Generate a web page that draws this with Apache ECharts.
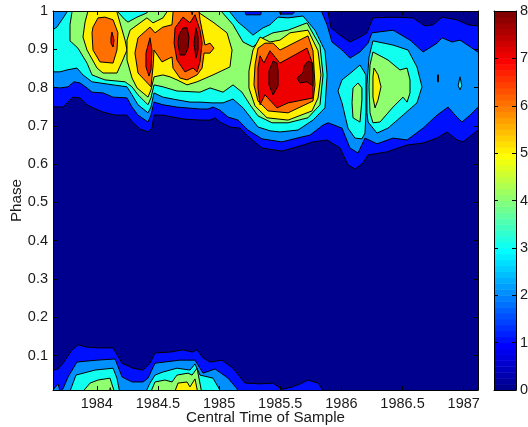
<!DOCTYPE html>
<html><head><meta charset="utf-8">
<style>html,body{margin:0;padding:0;background:#fff}#c{width:528px;height:427px}</style>
<script src="https://cdn.jsdelivr.net/npm/echarts@6/dist/echarts.min.js"></script>
</head><body><div id="c"></div>
<script>
// Tick labels
const timeTicks = [1984, 1984.5, 1985, 1985.5, 1986, 1986.5, 1987];
const phaseTicks = [0.1, 0.2, 0.3, 0.4, 0.5, 0.6, 0.7, 0.8, 0.9, 1];
const barTicks = [0, 1, 2, 3, 4, 5, 6, 7, 8];

// Jet palette, 64 steps from 0 to 8
const jet = ['#00008f','#00009f','#0000af','#0000bf','#0000cf','#0000df','#0000ef','#0000ff',
'#0010ff','#0020ff','#0030ff','#0040ff','#0050ff','#0060ff','#0070ff','#0080ff',
'#008fff','#009fff','#00afff','#00bfff','#00cfff','#00dfff','#00efff','#00ffff',
'#10ffef','#20ffdf','#30ffcf','#40ffbf','#50ffaf','#60ff9f','#70ff8f','#80ff80',
'#8fff70','#9fff60','#afff50','#bfff40','#cfff30','#dfff20','#efff10','#ffff00',
'#ffef00','#ffdf00','#ffcf00','#ffbf00','#ffaf00','#ff9f00','#ff8f00','#ff8000',
'#ff7000','#ff6000','#ff5000','#ff4000','#ff3000','#ff2000','#ff1000','#ff0000',
'#ef0000','#df0000','#cf0000','#bf0000','#af0000','#9f0000','#8f0000','#800000'];
const bandColor = ['#00008f','#0010ff','#008fff','#10ffef','#8fff70','#ffef00','#ff7000','#ef0000','#800000'];

// Contour rings, [central time, phase], one list per level
const level1 = [
[[1983.6,.750],[1983.724,.749],[1983.765,.762],[1983.805,.775],[1983.863,.773],[1983.92,.755],[1983.969,.747],[1984.051,.736],[1984.149,.728],[1984.247,.728],[1984.296,.708],[1984.353,.692],[1984.419,.684],[1984.451,.694],[1984.468,.728],[1984.541,.728],[1984.705,.718],[1984.844,.715],[1984.926,.715],[1984.967,.721],[1985.007,.710],[1985.089,.697],[1985.171,.694],[1985.253,.668],[1985.351,.642],[1985.514,.634],[1985.637,.645],[1985.768,.658],[1985.883,.663],[1985.989,.642],[1986.054,.598],[1986.112,.587],[1986.177,.603],[1986.218,.624],[1986.373,.632],[1986.537,.650],[1986.668,.655],[1986.782,.668],[1986.864,.684],[1986.946,.663],[1986.995,.658],[1987.118,.689],[1987.2,.689],[1987.2,.961],[1987.118,.961],[1987.036,.964],[1986.946,.977],[1986.823,.984],[1986.75,.964],[1986.684,.961],[1986.586,.982],[1986.422,.984],[1986.258,.982],[1986.209,.943],[1986.152,.932],[1986.07,.919],[1985.989,.937],[1985.915,.956],[1985.891,.997],[1985.88,1.02],[1983.6,1.02]],
[[1983.6,0],[1983.6,.062],[1983.642,.062],[1983.683,.065],[1983.724,.080],[1983.798,.115],[1983.847,.128],[1983.92,.122],[1984.027,.120],[1984.133,.120],[1984.207,.080],[1984.296,.067],[1984.378,.062],[1984.435,.080],[1984.476,.107],[1984.599,.109],[1984.705,.115],[1984.779,.109],[1984.82,.115],[1984.869,.094],[1984.926,.083],[1985.024,.088],[1985.114,.067],[1985.212,.028],[1985.335,.026],[1985.441,.028],[1985.515,.012],[1985.597,.018],[1985.678,.028],[1985.727,.036],[1985.809,.028],[1985.87,0]]
];
const level2 = [
[[1983.6,.802],[1983.699,.799],[1983.765,.802],[1983.814,.815],[1983.863,.812],[1983.92,.799],[1983.961,.788],[1984.051,.786],[1984.133,.775],[1984.247,.773],[1984.288,.749],[1984.337,.728],[1984.419,.710],[1984.443,.728],[1984.468,.762],[1984.541,.755],[1984.656,.749],[1984.844,.744],[1984.909,.744],[1984.95,.749],[1985.007,.741],[1985.073,.723],[1985.155,.715],[1985.236,.689],[1985.351,.666],[1985.514,.658],[1985.637,.668],[1985.744,.676],[1985.85,.702],[1985.891,.708],[1986.005,.694],[1986.07,.642],[1986.136,.629],[1986.193,.668],[1986.291,.653],[1986.422,.668],[1986.537,.663],[1986.668,.694],[1986.782,.728],[1986.872,.749],[1986.93,.728],[1986.986,.710],[1987.052,.728],[1987.118,.749],[1987.2,.749],[1987.2,.875],[1986.97,.924],[1986.905,.919],[1986.823,.930],[1986.782,.916],[1986.668,.893],[1986.561,.924],[1986.422,.950],[1986.25,.943],[1986.218,.916],[1986.152,.893],[1986.07,.877],[1986.005,.898],[1985.923,.919],[1985.883,.964],[1985.84,.997],[1985.83,1.02],[1985.62,1.02],[1985.62,.998],[1985.60,.992],[1985.50,.992],[1985.47,1.02],[1985.36,1.02],[1985.34,.990],[1985.22,.990],[1985.196,1.02],[1983.6,1.02]],
[[1983.6,0],[1983.642,.01],[1983.683,.026],[1983.699,.008],[1983.724,.013],[1983.765,.044],[1983.838,.083],[1984.002,.088],[1984.149,.091],[1984.207,.044],[1984.288,.031],[1984.378,.031],[1984.419,.041],[1984.476,.080],[1984.68,.088],[1984.803,.088],[1984.869,.054],[1984.967,.065],[1985.073,.041],[1985.147,.013],[1985.16,0]]
];
const level3 = [
[[1983.6,.841],[1983.699,.841],[1983.756,.846],[1983.838,.851],[1983.887,.833],[1983.961,.815],[1984.026,.812],[1984.133,.807],[1984.247,.802],[1984.288,.781],[1984.337,.755],[1984.419,.734],[1984.443,.749],[1984.468,.786],[1984.541,.775],[1984.656,.768],[1984.762,.762],[1984.844,.762],[1984.95,.760],[1985.032,.760],[1985.114,.770],[1985.196,.747],[1985.318,.697],[1985.416,.687],[1985.498,.684],[1985.645,.689],[1985.768,.715],[1985.866,.747],[1985.883,.833],[1985.866,.896],[1985.784,.950],[1985.686,.987],[1985.564,.982],[1985.482,.984],[1985.416,.964],[1985.359,.956],[1985.277,.937],[1985.212,.956],[1985.155,.971],[1985.089,.997],[1985.08,1.02],[1983.77,1.02],[1983.756,.997],[1983.715,.977],[1983.674,.958],[1983.6,.943]],
[[1983.773,0],[1983.83,.049],[1983.985,.062],[1984.133,.067],[1984.165,.041],[1984.19,0]],
[[1984.394,0],[1984.435,.028],[1984.476,.049],[1984.541,.057],[1984.656,.067],[1984.762,.062],[1984.803,.078],[1984.844,.049],[1984.95,.041],[1984.983,.023],[1985.024,0]],
[[1986.152,.859],[1986.201,.833],[1986.201,.734],[1986.193,.681],[1986.168,.666],[1986.111,.668],[1986.054,.694],[1986.005,.760],[1985.972,.791],[1986.005,.820],[1986.087,.841]],
[[1986.258,.922],[1986.422,.911],[1986.545,.898],[1986.618,.854],[1986.659,.802],[1986.618,.760],[1986.504,.728],[1986.381,.694],[1986.291,.681],[1986.218,.710],[1986.209,.734],[1986.209,.807],[1986.226,.880]],
[[1986.786,.833],[1986.794,.833],[1986.794,.815],[1986.786,.815]],
[[1986.97,.828],[1986.985,.805],[1986.97,.794],[1986.955,.805]]
];
const level4 = [
[[1983.8,1.02],[1983.797,.997],[1983.781,.964],[1983.781,.922],[1983.846,.903],[1983.92,.864],[1983.961,.833],[1984.067,.820],[1984.231,.815],[1984.288,.802],[1984.337,.781],[1984.419,.755],[1984.443,.773],[1984.468,.807],[1984.541,.802],[1984.656,.791],[1984.844,.788],[1984.926,.799],[1985.032,.788],[1985.114,.807],[1985.187,.788],[1985.253,.755],[1985.318,.726],[1985.433,.708],[1985.564,.708],[1985.727,.721],[1985.825,.755],[1985.85,.833],[1985.825,.909],[1985.719,.969],[1985.564,.950],[1985.441,.943],[1985.359,.930],[1985.277,.906],[1985.196,.919],[1985.114,.964],[1985.024,.997],[1985.02,1.02],[1984.44,1.02],[1984.41,.995],[1984.329,.984],[1984.255,.971],[1984.231,.977],[1984.174,.997],[1984.17,1.02]],
[[1983.871,0],[1983.945,.028],[1984.01,.036],[1984.108,.041],[1984.149,0]],
[[1984.435,0],[1984.476,.031],[1984.558,.036],[1984.615,.031],[1984.656,.049],[1984.746,.054],[1984.779,.049],[1984.82,.067],[1984.86,0]],
[[1986.136,.812],[1986.095,.799],[1986.087,.760],[1986.095,.721],[1986.152,.710],[1986.168,.768],[1986.168,.799]],
[[1986.258,.893],[1986.381,.872],[1986.479,.846],[1986.537,.851],[1986.561,.820],[1986.561,.786],[1986.537,.762],[1986.504,.775],[1986.422,.749],[1986.316,.710],[1986.258,.708],[1986.234,.734],[1986.226,.802],[1986.234,.859]]
];
const level5 = [
[[1983.945,1.02],[1983.904,.971],[1983.887,.932],[1983.92,.898],[1984.002,.851],[1984.051,.838],[1984.165,.838],[1984.206,.867],[1984.247,.898],[1984.231,.924],[1984.165,.997],[1984.16,1.02]],
[[1984.272,.950],[1984.41,.982],[1984.46,.969],[1984.541,.982],[1984.62,1.02],[1984.83,1.02],[1984.828,.997],[1984.95,.971],[1985.065,.943],[1985.106,.898],[1985.089,.854],[1984.95,.833],[1984.82,.815],[1984.738,.807],[1984.656,.820],[1984.599,.828],[1984.541,.833],[1984.468,.828],[1984.443,.794],[1984.419,.775],[1984.329,.799],[1984.288,.825],[1984.247,.872],[1984.247,.924]],
[[1985.244,.843],[1985.277,.898],[1985.335,.932],[1985.416,.919],[1985.498,.924],[1985.58,.943],[1985.727,.950],[1985.809,.896],[1985.833,.833],[1985.809,.773],[1985.76,.739],[1985.564,.715],[1985.392,.721],[1985.294,.752],[1985.244,.799]],
[[1986.267,.851],[1986.3,.833],[1986.324,.802],[1986.3,.768],[1986.275,.747],[1986.258,.775],[1986.258,.828]],
[[1984.631,0],[1984.664,.028],[1984.738,.031],[1984.762,.018],[1984.803,.039],[1984.828,0]],
[[1984.10,0],[1984.11,.016],[1984.125,0]]
];
const level6 = [
[[1984.01,.982],[1983.969,.958],[1983.961,.943],[1983.969,.898],[1984.026,.867],[1984.133,.864],[1984.165,.898],[1984.173,.943],[1984.133,.977],[1984.067,.984]],
[[1984.312,.890],[1984.337,.930],[1984.435,.958],[1984.476,.943],[1984.541,.958],[1984.615,.964],[1984.623,.995],[1984.63,1.02],[1984.76,1.02],[1984.78,.99],[1984.80,1.02],[1984.828,1.02],[1984.844,.977],[1984.885,.911],[1984.926,.916],[1984.958,.903],[1984.926,.890],[1984.877,.890],[1984.861,.851],[1984.82,.833],[1984.738,.820],[1984.68,.825],[1984.623,.851],[1984.615,.880],[1984.533,.867],[1984.468,.898],[1984.46,.854],[1984.443,.802],[1984.337,.838]],
[[1985.294,.859],[1985.318,.903],[1985.375,.916],[1985.441,.916],[1985.498,.898],[1985.727,.935],[1985.768,.896],[1985.784,.807],[1985.768,.765],[1985.564,.734],[1985.4,.739],[1985.318,.765],[1985.285,.807]]
];
const level7 = [
[[1984.124,.945],[1984.116,.930],[1984.116,.916],[1984.133,.906],[1984.141,.924]],
[[1984.435,.930],[1984.402,.890],[1984.402,.854],[1984.427,.830],[1984.443,.846],[1984.451,.898]],
[[1984.705,.984],[1984.64,.956],[1984.632,.916],[1984.656,.872],[1984.721,.841],[1984.787,.851],[1984.82,.841],[1984.844,.867],[1984.861,.916],[1984.844,.950],[1984.803,.990],[1984.762,.969]],
[[1985.318,.851],[1985.335,.883],[1985.367,.864],[1985.416,.896],[1985.498,.864],[1985.719,.903],[1985.768,.859],[1985.768,.773],[1985.564,.760],[1985.474,.747],[1985.375,.781],[1985.335,.755],[1985.318,.799]]
];
const level8 = [
[[1984.705,.956],[1984.672,.937],[1984.664,.916],[1984.68,.885],[1984.721,.885],[1984.746,.903],[1984.754,.932],[1984.738,.956]],
[[1984.811,.956],[1984.795,.916],[1984.811,.877],[1984.828,.898],[1984.828,.932]],
[[1985.441,.869],[1985.408,.843],[1985.408,.807],[1985.441,.781],[1985.482,.804],[1985.482,.843],[1985.474,.864]],
[[1985.727,.869],[1985.695,.856],[1985.686,.838],[1985.637,.825],[1985.662,.812],[1985.719,.815],[1985.768,.804],[1985.768,.838],[1985.76,.864]]
];
const levels = [level1, level2, level3, level4, level5, level6, level7, level8];

const FONT = '"Liberation Sans", Arial, sans-serif';
const INK = '#1a1a1a', FS = 14.5, TITLE_FS = 15.2;
const line = {show:true, onZero:false, lineStyle:{color:'#000', width:1}};
const tickIn = vals => ({show:true, inside:true, length:4, lineStyle:{color:'#000', width:1}, customValues:vals});
const noLabel = {show:false};
const labels = (vals, margin) => ({show:true, color:INK, fontFamily:FONT, fontSize:FS, margin, customValues:vals,
  formatter:v => String(v)});

function bandRender(rings, color){
  return (params, api) => ({
    type:'polygon',
    shape:{points:rings[params.dataIndex].map(p => api.coord(p))},
    style:{fill:color, stroke:'#000', lineWidth:1, lineJoin:'round'}
  });
}
const contourSeries = levels.map((rings, i) => ({
  type:'custom', name:'level '+(i+1), coordinateSystem:'cartesian2d', xAxisIndex:0, yAxisIndex:0,
  clip:true, silent:true, z:2+i, animation:false,
  data:rings.map((r, k) => [k]),
  renderItem:bandRender(rings, bandColor[i+1])
}));
const barSeries = {
  type:'custom', coordinateSystem:'cartesian2d', xAxisIndex:2, yAxisIndex:2, clip:true, silent:true, animation:false, z:2,
  data:jet.map((c, i) => [i/8, (i+1)/8]),
  renderItem:(params, api) => {
    const a = api.coord([0, api.value(0)]), b = api.coord([1, api.value(1)]);
    return {type:'rect', shape:{x:a[0], y:b[1], width:b[0]-a[0], height:a[1]-b[1]+0.5}, style:{fill:jet[params.dataIndex]}};
  }
};

const chart = echarts.init(document.getElementById('c'), null, {renderer:'canvas'});
chart.setOption({
  animation:false, backgroundColor:'#fff',
  grid:[
    {left:53, top:11, width:425, height:379, outerBoundsMode:'none', containLabel:false, backgroundColor:bandColor[0], show:true, borderWidth:0},
    {left:494, top:11, width:22, height:379, outerBoundsMode:'none', containLabel:false, show:false}
  ],
  xAxis:[
    {gridIndex:0, type:'value', position:'bottom', min:1983.642, max:1987.117, z:20, axisLine:line, splitLine:{show:false},
     axisTick:tickIn(timeTicks), axisLabel:labels(timeTicks, 6),
     name:'Central Time of Sample', nameLocation:'middle', nameGap:20, nameMoveOverlap:false,
     nameTextStyle:{color:INK, fontFamily:FONT, fontSize:TITLE_FS}},
    {gridIndex:0, type:'value', position:'top', min:1983.642, max:1987.117, z:20, axisLine:line, splitLine:{show:false},
     axisTick:tickIn(timeTicks), axisLabel:noLabel},
    {gridIndex:1, type:'value', position:'bottom', min:0, max:1, z:20, axisLine:line, splitLine:{show:false}, axisTick:{show:false}, axisLabel:noLabel},
    {gridIndex:1, type:'value', position:'top', min:0, max:1, z:20, axisLine:line, splitLine:{show:false}, axisTick:{show:false}, axisLabel:noLabel}
  ],
  yAxis:[
    {gridIndex:0, type:'value', position:'left', min:0.01, max:1, z:20, axisLine:line, splitLine:{show:false},
     axisTick:tickIn(phaseTicks), axisLabel:labels(phaseTicks, 5),
     name:'Phase', nameLocation:'middle', nameGap:29, nameRotate:90, nameMoveOverlap:false,
     nameTextStyle:{color:INK, fontFamily:FONT, fontSize:TITLE_FS}},
    {gridIndex:0, type:'value', position:'right', min:0.01, max:1, z:20, axisLine:line, splitLine:{show:false},
     axisTick:tickIn(phaseTicks), axisLabel:noLabel},
    {gridIndex:1, type:'value', position:'right', min:0, max:8, z:20, axisLine:line, splitLine:{show:false},
     axisTick:tickIn(barTicks), axisLabel:labels(barTicks, 4)},
    {gridIndex:1, type:'value', position:'left', min:0, max:8, z:20, axisLine:line, splitLine:{show:false},
     axisTick:tickIn(barTicks), axisLabel:noLabel}
  ],
  series:[...contourSeries, barSeries]
});
</script></body></html>
